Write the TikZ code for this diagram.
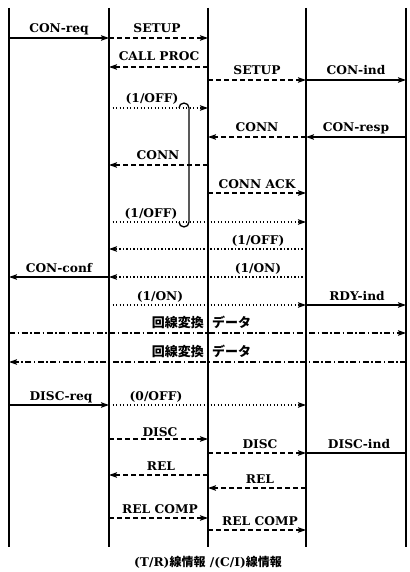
\documentclass[tikz,border=0pt]{standalone}
\usepackage{fontspec}
\setmainfont{DejaVu Serif}[FakeStretch=1.02]
\newfontfamily\cjk{Noto Sans CJK JP}
\usetikzlibrary{arrows.meta}
\begin{document}
\begin{tikzpicture}[x=1pt,y=-1pt,
 life/.style={line width=2.4pt},
 tip/.style={-{Stealth[length=8pt,width=5.5pt,inset=1.5pt]}},
 sol/.style={line width=1.3pt,tip},
 solplain/.style={line width=1.3pt},
 dsh/.style={line width=1.3pt,dash pattern=on 5pt off 3pt,tip},
 dtt/.style={line width=1.5pt,dash pattern=on 1.3pt off 2.2pt,tip},
 ddt/.style={line width=1.3pt,dash pattern=on 6pt off 2.5pt on 1.5pt off 2.5pt,tip},
 hookline/.style={line width=1.3pt},
 lab/.style={anchor=base,inner sep=0pt,font=\fontsize{12}{14}\selectfont\bfseries},
 jlab/.style={inner sep=0pt,font=\cjk\fontsize{13}{15}\selectfont\bfseries},
 captxt/.style={inner sep=0pt,font=\fontsize{12}{14}\selectfont\bfseries},
]
\useasboundingbox (0,0) rectangle (409,572);
% lifelines
\coordinate (A) at (9,8);   \coordinate (Ab) at (9,547);
\coordinate (B) at (109,8); \coordinate (Bb) at (109,547);
\coordinate (C) at (208,8); \coordinate (Cb) at (208,547);
\coordinate (D) at (306,8); \coordinate (Db) at (306,547);
\coordinate (E) at (406,8); \coordinate (Eb) at (406,547);
\draw[life] (A) -- (Ab);
\draw[life] (B) -- (Bb);
\draw[life] (C) -- (Cb);
\draw[life] (D) -- (Db);
\draw[life] (E) -- (Eb);
% messages
\draw[sol] (A |- 0,38) -- (B |- 0,38);
\node[lab] (l1) at (59,33) {CON-req};
\draw[dsh] (B |- 0,38) -- (C |- 0,38);
\node[lab] (l2) at (157,33) {SETUP};
\draw[dsh] (C |- 0,67) -- (B |- 0,67);
\node[lab] (l3) at (159,61) {CALL PROC};
\draw[dsh] (C |- 0,80) -- (D |- 0,80);
\node[lab] (l4) at (257,75) {SETUP};
\draw[sol] (D |- 0,80) -- (E |- 0,80);
\node[lab] (l5) at (356,75) {CON-ind};
\draw[dtt] (B |- 0,108) -- (C |- 0,108);
\node[lab] (l6) at (152,103) {(1/OFF)};
\draw[dsh] (D |- 0,137) -- (C |- 0,137);
\node[lab] (l7) at (257,132) {CONN};
\draw[sol] (E |- 0,137) -- (D |- 0,137);
\node[lab] (l8) at (356,132) {CON-resp};
\draw[dsh] (C |- 0,165) -- (B |- 0,165);
\node[lab] (l9) at (158,160) {CONN};
\draw[dsh] (C |- 0,193) -- (D |- 0,193);
\node[lab] (l10) at (257,188) {CONN ACK};
\draw[dtt] (B |- 0,222) -- (D |- 0,222);
\node[lab] (l11) at (151,217) {(1/OFF)};
\draw[dtt] (D |- 0,249) -- (B |- 0,249);
\node[lab] (l12) at (258,244) {(1/OFF)};
\draw[dtt] (D |- 0,277) -- (B |- 0,277);
\node[lab] (l13) at (258,272) {(1/ON)};
\draw[sol] (B |- 0,277) -- (A |- 0,277);
\node[lab] (l14) at (59,272) {CON-conf};
\draw[dtt] (B |- 0,305) -- (D |- 0,305);
\node[lab] (l15) at (160,300) {(1/ON)};
\draw[sol] (D |- 0,305) -- (E |- 0,305);
\node[lab] (l16) at (357,300) {RDY-ind};
\draw[ddt] (A |- 0,333) -- (E |- 0,333);
\node[jlab,anchor=base east] (j1) at (204,327) {回線変換};
\node[jlab,anchor=base west] (j2) at (212,327) {データ};
\draw[ddt] (E |- 0,362) -- (A |- 0,362);
\node[jlab,anchor=base east] (j3) at (204,356) {回線変換};
\node[jlab,anchor=base west] (j4) at (212,356) {データ};
\draw[sol] (A |- 0,405) -- (B |- 0,405);
\node[lab] (l17) at (61,400) {DISC-req};
\draw[dtt] (B |- 0,405) -- (D |- 0,405);
\node[lab] (l18) at (156,400) {(0/OFF)};
\draw[dsh] (B |- 0,439) -- (C |- 0,439);
\node[lab] (l19) at (160,436) {DISC};
\draw[dsh] (C |- 0,453) -- (D |- 0,453);
\node[lab] (l20) at (260,448) {DISC};
\draw[solplain] (D |- 0,453) -- (E |- 0,453);
\node[lab] (l21) at (359,448) {DISC-ind};
\draw[dsh] (C |- 0,475) -- (B |- 0,475);
\node[lab] (l22) at (161,470) {REL};
\draw[dsh] (D |- 0,488) -- (C |- 0,488);
\node[lab] (l23) at (260,483) {REL};
\draw[dsh] (B |- 0,518) -- (C |- 0,518);
\node[lab] (l24) at (160,513) {REL COMP};
\draw[dsh] (C |- 0,530) -- (D |- 0,530);
\node[lab] (l25) at (260,525) {REL COMP};
% bracket hook
\draw[hookline] (179,108) arc[start angle=180,end angle=360,radius=5] -- (189,222)
  arc[start angle=0,end angle=180,radius=5];
% caption
\node[captxt] (capt) at (208,562) {(T/R){\cjk 線情報} /(C/I){\cjk 線情報}};
\end{tikzpicture}
\end{document}
